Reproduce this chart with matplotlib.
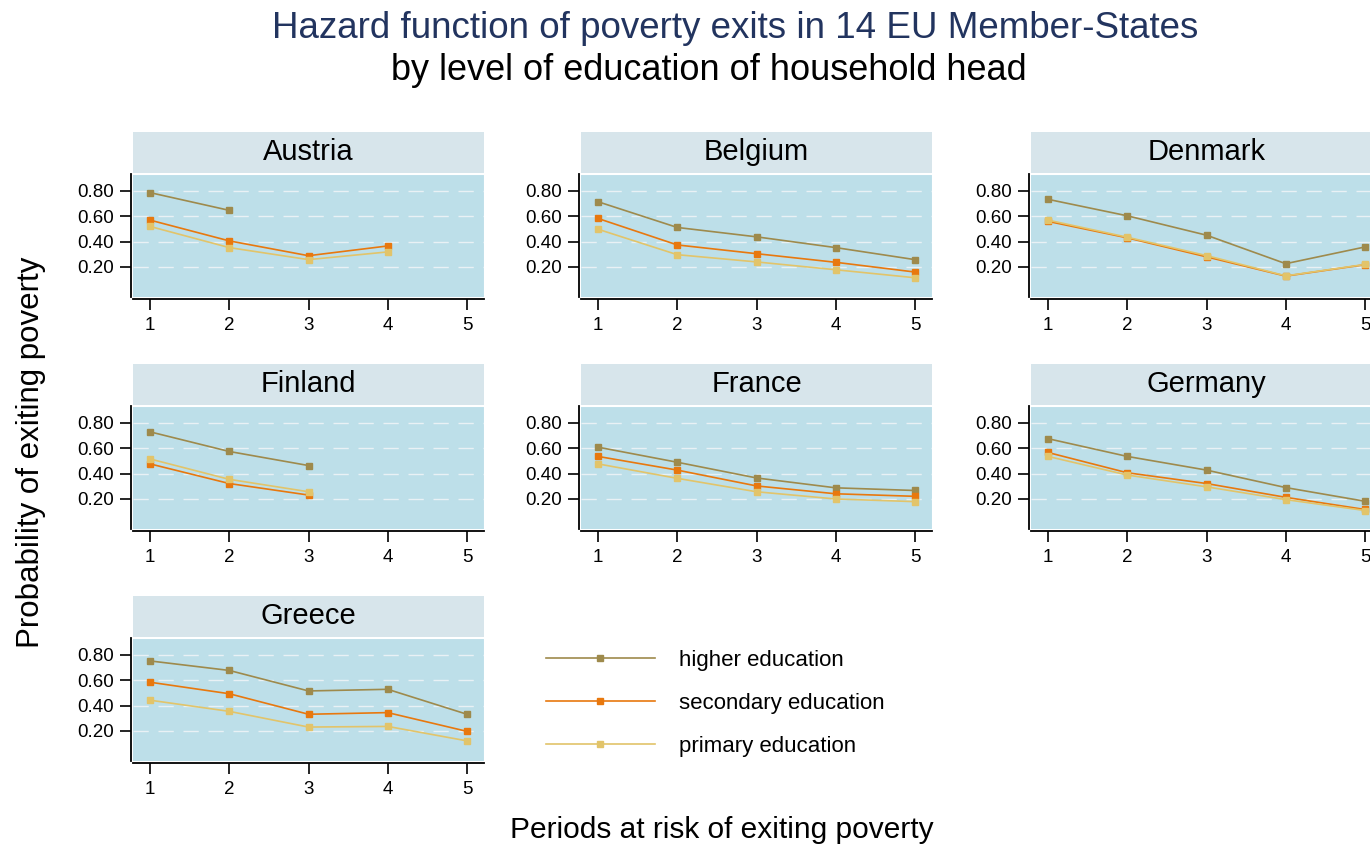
import matplotlib
matplotlib.use("Agg")
import matplotlib.pyplot as plt
import numpy as np

plt.rcParams['font.family'] = ['Liberation Sans', 'DejaVu Sans']

# ---- data --------------------------------------------------------------
countries = ['Austria', 'Belgium', 'Denmark', 'Finland', 'France', 'Germany', 'Greece']
periods = [1, 2, 3, 4, 5]
nan = np.nan

higher = [
    [0.787, 0.647, nan, nan, nan],
    [0.715, 0.512, 0.438, 0.353, 0.258],
    [0.734, 0.604, 0.451, 0.226, 0.358],
    [0.730, 0.575, 0.464, nan, nan],
    [0.609, 0.490, 0.366, 0.288, 0.267],
    [0.676, 0.536, 0.428, 0.290, 0.182],
    [0.753, 0.678, 0.516, 0.529, 0.332],
]
secondary = [
    [0.570, 0.406, 0.289, 0.366, nan],
    [0.583, 0.374, 0.305, 0.237, 0.160],
    [0.560, 0.430, 0.280, 0.128, 0.218],
    [0.477, 0.322, 0.231, nan, nan],
    [0.536, 0.428, 0.303, 0.241, 0.221],
    [0.567, 0.407, 0.322, 0.213, 0.117],
    [0.585, 0.494, 0.332, 0.345, 0.197],
]
primary = [
    [0.520, 0.353, 0.258, 0.319, nan],
    [0.498, 0.297, 0.240, 0.178, 0.115],
    [0.570, 0.435, 0.290, 0.130, 0.220],
    [0.516, 0.355, 0.257, nan, nan],
    [0.477, 0.363, 0.257, 0.200, 0.179],
    [0.536, 0.389, 0.296, 0.195, 0.109],
    [0.443, 0.355, 0.231, 0.236, 0.122],
]
series_labels = ['higher education', 'secondary education', 'primary education']
series_colors = ['#9e8a4c', '#e8780e', '#e2c46a']
yticks = [0.2, 0.4, 0.6, 0.8]

# ---- layout -------------------------------------------------------------
W, H = 1370, 848
fig = plt.figure(figsize=(W / 100, H / 100), dpi=100)
fig.set_facecolor('white')

col_x = [133, 581, 1031]
row_y = [174, 406, 638]
pw, ph = 351, 123
strip_h = 41

plot_bg = '#bddfe9'
strip_bg = '#d7e5eb'


def px_axes(x0, y0, w, h):
    return fig.add_axes([x0 / W, 1 - (y0 + h) / H, w / W, h / H])


for i, name in enumerate(countries):
    r, c = divmod(i, 3)
    x0, y0 = col_x[c], row_y[r]

    # strip with country name
    sax = px_axes(x0, y0 - strip_h - 1, pw, strip_h)
    sax.set_facecolor(strip_bg)
    sax.set_xticks([])
    sax.set_yticks([])
    for s in sax.spines.values():
        s.set_visible(False)
    sax.text(0.5, 0.5, name, ha='center', va='center', fontsize=21,
             transform=sax.transAxes, color='black')

    ax = px_axes(x0, y0, pw, ph)
    ax.set_facecolor(plot_bg)
    for ys in yticks:
        ax.axhline(ys, color='#e9f1f5', lw=1, dashes=(11, 7), zorder=1)

    for vals, col, lab in zip([higher[i], secondary[i], primary[i]],
                              series_colors, series_labels):
        ax.plot(periods, vals, color=col, lw=1.2, marker='s', ms=4.5,
                mec=col, mfc=col, label=lab, zorder=3)

    ax.set_xlim(0.785, 5.215)
    ax.set_ylim(-0.037, 0.934)
    ax.set_yticks(yticks)
    ax.set_yticklabels([f'{v:.2f}' for v in yticks])
    ax.set_xticks(periods)
    ax.tick_params(axis='both', direction='out', length=8, width=1.2,
                   labelsize=13.5, colors='black')
    ax.tick_params(axis='y', pad=4)
    ax.tick_params(axis='x', pad=5)
    ax.spines['top'].set_color('white')
    ax.spines['right'].set_color('white')
    ax.spines['left'].set_position(('outward', 1.5))
    ax.spines['bottom'].set_position(('outward', 1.5))
    ax.spines['left'].set_linewidth(1.3)
    ax.spines['bottom'].set_linewidth(1.3)

# legend
handles, labels = ax.get_legend_handles_labels()
fig.legend(handles, labels, loc='upper left', bbox_to_anchor=(526 / W, 1 - 630 / H),
           frameon=False, fontsize=16, handlelength=4.9, handletextpad=1.08,
           labelspacing=0.98)

# titles
fig.text(735 / W, 1 - 28 / H, 'Hazard function of poverty exits in 14 EU Member-States',
         ha='center', va='center', fontsize=26.5, color='#22345f')
fig.text(709 / W, 1 - 70 / H, 'by level of education of household head',
         ha='center', va='center', fontsize=26, color='black')
fig.text(31 / W, 1 - 452 / H, 'Probability of exiting poverty', rotation=90,
         ha='center', va='center', fontsize=22.5)
fig.text(722 / W, 1 - 830 / H, 'Periods at risk of exiting poverty',
         ha='center', va='center', fontsize=21.5)

fig.savefig('out.png', dpi=100)
